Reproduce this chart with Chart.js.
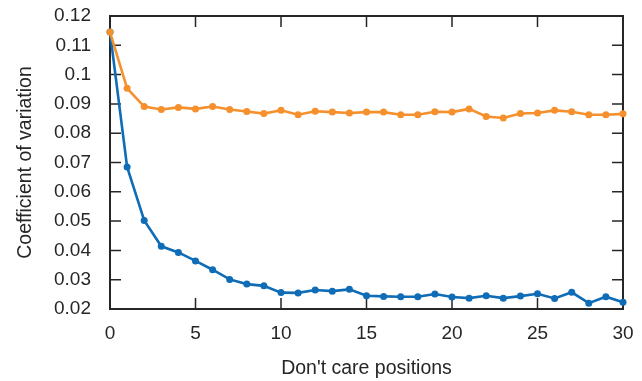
<!DOCTYPE html>
<html>
<head>
<meta charset="utf-8">
<script src="https://cdn.jsdelivr.net/npm/chart.js@4/dist/chart.umd.min.js"></script>
<style>
  html, body { margin: 0; padding: 0; background: #fff; }
  #wrap { width: 642px; height: 381px; }
</style>
</head>
<body>
<div id="wrap"><canvas id="cvChart" width="642" height="381"></canvas></div>
<script>
// posisi "don't care" (sumbu x)
const positions = [0,1,2,3,4,5,6,7,8,9,10,11,12,13,14,15,16,17,18,19,20,21,22,23,24,25,26,27,28,29,30];
// seri oranye (atas)
const cvOrange = [0.1145,0.0953,0.0891,0.0881,0.0888,0.0883,0.0891,0.0881,0.0874,0.0867,0.0878,0.0863,0.0875,0.0872,0.0869,
  0.0872,0.0872,0.0863,0.0863,0.0873,0.0872,0.0883,0.0857,0.0852,0.0867,0.0869,0.0878,0.0873,0.0863,0.0863,0.0866];
// seri biru (bawah)
const cvBlue = [0.1145,0.0685,0.0502,0.0414,0.0393,0.0364,0.0334,0.0301,0.0285,0.0279,0.0256,0.0255,0.0265,0.0261,0.0267,
  0.0245,0.0243,0.0242,0.0242,0.0251,0.0241,0.0237,0.0245,0.0237,0.0244,0.0252,0.0236,0.0257,0.0220,0.0242,0.0223];
const xTicks = [0, 5, 10, 15, 20, 25, 30];
const yTicks = [0.02, 0.03, 0.04, 0.05, 0.06, 0.07, 0.08, 0.09, 0.1, 0.11, 0.12];

const textColor = '#262626';
const fontFamily = '"Liberation Sans", Arial, Helvetica, sans-serif';

function toPoints(ys) {
    return positions.map((x, i) => ({ x: x, y: ys[i] }));
}

// bingkai kotak + tick ke dalam di keempat sisi
const frameTicks = {
    id: 'frameTicks',
    beforeDatasetsDraw(chart) {
        const { ctx, chartArea: a, scales } = chart;
        const len = 11;
        ctx.save();
        ctx.strokeStyle = textColor;
        ctx.lineWidth = 1.5;
        ctx.beginPath();
        xTicks.forEach(v => {
            const px = scales.x.getPixelForValue(v);
            ctx.moveTo(px, a.bottom); ctx.lineTo(px, a.bottom - len);
            ctx.moveTo(px, a.top); ctx.lineTo(px, a.top + len);
        });
        yTicks.forEach(v => {
            const py = scales.y.getPixelForValue(v);
            ctx.moveTo(a.left, py); ctx.lineTo(a.left + len, py);
            ctx.moveTo(a.right, py); ctx.lineTo(a.right - len, py);
        });
        ctx.stroke();
        ctx.lineWidth = 2;
        ctx.strokeRect(a.left, a.top, a.right - a.left, a.bottom - a.top);
        ctx.restore();
    }
};

const ctx = document.getElementById('cvChart').getContext('2d');
new Chart(ctx, {
    type: 'line',
    data: {
        datasets: [
            {
                data: toPoints(cvOrange),
                borderColor: '#f5902c',
                backgroundColor: '#f5902c',
                borderWidth: 2.6,
                pointRadius: 3.5,
                pointBorderWidth: 0,
                tension: 0,
                clip: false
            },
            {
                data: toPoints(cvBlue),
                borderColor: '#0f6cb6',
                backgroundColor: '#0f6cb6',
                borderWidth: 2.6,
                pointRadius: 3.5,
                pointBorderWidth: 0,
                tension: 0,
                clip: false
            }
        ]
    },
    options: {
        responsive: false,
        animation: false,
        layout: { padding: { top: 16, right: 19, left: 0, bottom: 0 } },
        plugins: { legend: { display: false }, tooltip: { enabled: false } },
        scales: {
            x: {
                type: 'linear',
                min: 0, max: 30,
                grid: { display: false },
                border: { display: false },
                afterBuildTicks: s => { s.ticks = xTicks.map(v => ({ value: v })); },
                afterFit: s => { s.height = 72; s.paddingLeft = 0; s.paddingRight = 0; },
                ticks: { color: textColor, font: { family: fontFamily, size: 19 }, padding: 5, maxRotation: 0 },
                title: { display: true, text: "Don't care positions", color: textColor,
                    font: { family: fontFamily, size: 19.5 }, padding: { top: 0, bottom: 1 } }
            },
            y: {
                min: 0.02, max: 0.12,
                grid: { display: false },
                border: { display: false },
                afterBuildTicks: s => { s.ticks = yTicks.map(v => ({ value: v })); },
                afterFit: s => { s.width = 110; s.paddingTop = 0; s.paddingBottom = 0; },
                ticks: { color: textColor, font: { family: fontFamily, size: 19 }, padding: 11,
                    callback: v => String(+v.toFixed(2)) },
                title: { display: true, text: 'Coefficient of variation', color: textColor,
                    font: { family: fontFamily, size: 19.5 }, padding: { top: 14, bottom: 0 } }
            }
        }
    },
    plugins: [frameTicks]
});
</script>
</body>
</html>
